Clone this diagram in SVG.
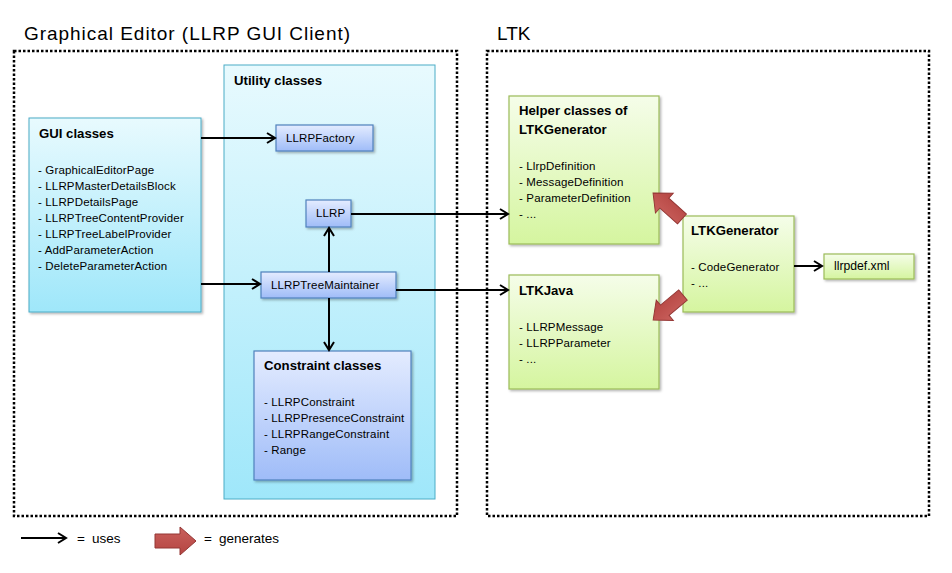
<svg xmlns="http://www.w3.org/2000/svg" width="952" height="573" viewBox="0 0 952 573">
<defs>
<linearGradient id="gCyan" x1="0" y1="0" x2="0" y2="1"><stop offset="0" stop-color="#e8fafe"/><stop offset="1" stop-color="#9fe7fa"/></linearGradient>
<linearGradient id="gBlue" x1="0" y1="0" x2="0" y2="1"><stop offset="0" stop-color="#e4ecff"/><stop offset="1" stop-color="#9fbcf8"/></linearGradient>
<linearGradient id="gGreen" x1="0" y1="0" x2="0" y2="1"><stop offset="0" stop-color="#f5fde9"/><stop offset="1" stop-color="#d5f59f"/></linearGradient>
<linearGradient id="gRed" x1="0" y1="0" x2="0" y2="1"><stop offset="0" stop-color="#c9605c"/><stop offset="1" stop-color="#b54542"/></linearGradient>
<filter id="sh" x="-10%" y="-10%" width="130%" height="130%"><feDropShadow dx="1.5" dy="1.5" stdDeviation="1.2" flood-color="#000" flood-opacity="0.3"/></filter>
<marker id="ah" markerWidth="12" markerHeight="12" refX="10" refY="6" orient="auto" markerUnits="userSpaceOnUse"><path d="M2,1 L10,6 L2,11" fill="none" stroke="#000" stroke-width="2"/></marker>
<polygon id="blk" points="0,-7 25,-7 25,-14 41,0 25,14 25,7 0,7"/>
</defs>
<style>
text{font-family:"Liberation Sans",Arial,sans-serif;fill:#000}
.big{font-size:19px}
.ttl{font-size:13.2px;font-weight:bold}
.it{font-size:11.5px;letter-spacing:0.15px}
.lg{font-size:13.5px}
.dot{fill:none;stroke:#000;stroke-width:2.5;stroke-dasharray:2.5 2}
.cy{fill:url(#gCyan);stroke:#4bacc6;stroke-width:1}
.bl{fill:url(#gBlue);stroke:#4f81bd;stroke-width:1.2;filter:url(#sh)}
.gr{fill:url(#gGreen);stroke:#9bbb59;stroke-width:1.2;filter:url(#sh)}
.cn{fill:none;stroke:#000;stroke-width:2;marker-end:url(#ah)}
.red{fill:url(#gRed);stroke:#943634;stroke-width:1}
</style>

<g id="containers">
<text class="big" x="24" y="40" textLength="326">Graphical Editor (LLRP GUI Client)</text>
<rect class="dot" x="14" y="51" width="443" height="465"/>
<text class="big" x="497" y="40">LTK</text>
<rect class="dot" x="487" y="51" width="442" height="465"/>
</g>

<g id="utility">
<rect class="cy" x="224" y="65" width="211" height="434"/>
<text class="ttl" x="234" y="85">Utility classes</text>
</g>

<g id="gui">
<rect class="cy" x="29" y="118" width="172" height="194" style="filter:url(#sh)"/>
<text class="ttl" x="39" y="138">GUI classes</text>
<text class="it" x="38" y="174">- GraphicalEditorPage</text>
<text class="it" x="38" y="190">- LLRPMasterDetailsBlock</text>
<text class="it" x="38" y="206">- LLRPDetailsPage</text>
<text class="it" x="38" y="222">- LLRPTreeContentProvider</text>
<text class="it" x="38" y="238">- LLRPTreeLabelProvider</text>
<text class="it" x="38" y="254">- AddParameterAction</text>
<text class="it" x="38" y="270">- DeleteParameterAction</text>
</g>

<g id="llrpfactory">
<rect class="bl" x="276" y="125" width="97" height="26"/>
<text class="it" x="286" y="142">LLRPFactory</text>
</g>
<g id="llrp">
<rect class="bl" x="306" y="200" width="45" height="27"/>
<text class="it" x="316" y="217">LLRP</text>
</g>
<g id="treemaintainer">
<rect class="bl" x="261" y="272" width="135" height="26"/>
<text class="it" x="271" y="289">LLRPTreeMaintainer</text>
</g>
<g id="constraint">
<rect class="bl" x="254" y="351" width="157" height="129"/>
<text class="ttl" x="264" y="370">Constraint classes</text>
<text class="it" x="264" y="406">- LLRPConstraint</text>
<text class="it" x="264" y="422">- LLRPPresenceConstraint</text>
<text class="it" x="264" y="438">- LLRPRangeConstraint</text>
<text class="it" x="264" y="454">- Range</text>
</g>

<g id="helper">
<rect class="gr" x="509" y="96" width="150" height="148"/>
<text class="ttl" x="519" y="115">Helper classes of</text>
<text class="ttl" x="519" y="134">LTKGenerator</text>
<text class="it" x="519" y="170">- LlrpDefinition</text>
<text class="it" x="519" y="186">- MessageDefinition</text>
<text class="it" x="519" y="202">- ParameterDefinition</text>
<text class="it" x="519" y="218">- ...</text>
</g>
<g id="ltkjava">
<rect class="gr" x="509" y="275" width="150" height="114"/>
<text class="ttl" x="519" y="295">LTKJava</text>
<text class="it" x="519" y="331">- LLRPMessage</text>
<text class="it" x="519" y="347">- LLRPParameter</text>
<text class="it" x="519" y="363">- ...</text>
</g>
<g id="ltkgenerator">
<rect class="gr" x="683" y="216" width="111" height="96"/>
<text class="ttl" x="691" y="235">LTKGenerator</text>
<text class="it" x="691" y="271">- CodeGenerator</text>
<text class="it" x="691" y="287">- ...</text>
</g>
<g id="llrpdef">
<rect class="gr" x="824" y="254" width="90" height="25"/>
<text x="834" y="270" style="font-size:12.2px">llrpdef.xml</text>
</g>

<g id="connectors">
<line class="cn" x1="201" y1="138" x2="275" y2="138"/>
<line class="cn" x1="201" y1="284" x2="260" y2="284"/>
<line class="cn" x1="329" y1="272" x2="329" y2="228"/>
<line class="cn" x1="329" y1="298" x2="329" y2="350"/>
<line class="cn" x1="351" y1="214" x2="508" y2="214"/>
<line class="cn" x1="396" y1="290" x2="508" y2="290"/>
<line class="cn" x1="794" y1="266" x2="822" y2="266"/>
<use href="#blk" class="red" transform="translate(682,219) rotate(-138) scale(0.95)"/>
<use href="#blk" class="red" transform="translate(683,295) rotate(140) scale(0.95)"/>
</g>

<g id="legend">
<line class="cn" x1="21" y1="538" x2="66" y2="538"/>
<text class="lg" x="77" y="543">=</text>
<text class="lg" x="92" y="543">uses</text>
<use href="#blk" class="red" transform="translate(155,541)"/>
<text class="lg" x="204" y="543">=</text>
<text class="lg" x="219" y="543">generates</text>
</g>
</svg>
